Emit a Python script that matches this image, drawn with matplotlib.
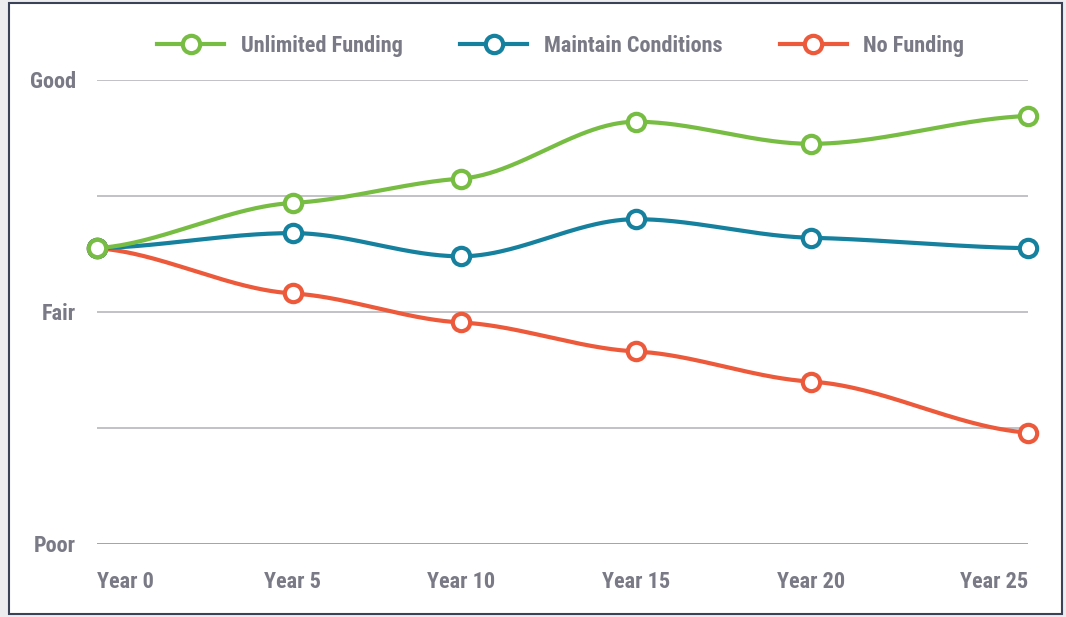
import numpy as np
import matplotlib
matplotlib.use('Agg')
import matplotlib.pyplot as plt
from matplotlib import font_manager
from matplotlib.patches import Rectangle

# data (scale: Poor=0, Fair=2, Good=4)
labels_x = ['Year 0', 'Year 5', 'Year 10', 'Year 15', 'Year 20', 'Year 25']
x_pos = [0, 5.26, 9.77, 14.47, 19.17, 25]
unlimited = [2.55, 2.94, 3.15, 3.64, 3.45, 3.69]
maintain = [2.55, 2.68, 2.48, 2.80, 2.64, 2.55]
no_funding = [2.55, 2.16, 1.91, 1.66, 1.40, 0.96]
series_names = ['Unlimited Funding', 'Maintain Conditions', 'No Funding']
colors = ['#78bd43', '#16819e', '#ec5a3b']
y_ticks = [0, 1, 2, 3, 4]
y_labels = {0: 'Poor', 2: 'Fair', 4: 'Good'}

names = {f.name for f in font_manager.fontManager.ttflist}
family = 'DejaVu Sans'
for cand in ['Roboto Condensed', 'Liberation Sans Narrow', 'Roboto', 'Open Sans']:
    if cand in names:
        family = cand
        break
plt.rcParams['font.family'] = family
TXT = '#7a7a86'
FS = 16
LW = 3.0


def smooth(x, y, k=0.3, n=80):
    # cubic hermite path with softened tangents (nearly flat at each point)
    x = np.asarray(x, float)
    y = np.asarray(y, float)
    h = np.diff(x)
    d = np.diff(y) / h
    m = np.zeros(len(x))
    for i in range(1, len(x) - 1):
        if d[i - 1] * d[i] > 0:
            m[i] = k * (d[i - 1] * h[i] + d[i] * h[i - 1]) / (h[i - 1] + h[i])
    m[0] = k * d[0]
    m[-1] = k * d[-1]
    xs, ys = [], []
    for i in range(len(x) - 1):
        t = np.linspace(0, 1, n)
        h00 = 2 * t**3 - 3 * t**2 + 1
        h10 = t**3 - 2 * t**2 + t
        h01 = -2 * t**3 + 3 * t**2
        h11 = t**3 - t**2
        xs.append(x[i] + t * h[i])
        ys.append(h00 * y[i] + h10 * h[i] * m[i] + h01 * y[i + 1] + h11 * h[i] * m[i + 1])
    return np.concatenate(xs), np.concatenate(ys)


W, H = 1066, 617
fig = plt.figure(figsize=(W / 100, H / 100), dpi=100, facecolor='#ededf0')
frame = Rectangle((9 / W, 3 / H), (1062 - 9) / W, (614 - 3) / H, transform=fig.transFigure,
                  facecolor='white', edgecolor='#3a4258', linewidth=1.5, zorder=-10)
fig.add_artist(frame)

ax = fig.add_axes([97 / W, (H - 544) / H, (1028 - 97) / W, (544 - 80) / H])
ax.set_zorder(5)
ax.set_facecolor('none')
ax.set_xlim(0, 25)
ax.set_ylim(0, 4)
for s in ax.spines.values():
    s.set_visible(False)
ax.set_xticks([])
ax.set_yticks([])

for yv in y_ticks:
    ax.axhline(yv, color='#8a8a94' if yv == 0 else '#b0b0b6', lw=1.1, zorder=1)
    if yv in y_labels:
        ax.annotate(y_labels[yv], (0, yv), xycoords=('axes fraction', 'data'), xytext=(-21, -2),
                    textcoords='offset pixels', ha='right', va='center', fontsize=FS,
                    fontweight='bold', color=TXT)

for i, (lab, xv) in enumerate(zip(labels_x, x_pos)):
    ha = 'left' if i == 0 else ('right' if i == len(labels_x) - 1 else 'center')
    ax.annotate(lab, (xv, 0), xycoords='data', xytext=(0, -38), textcoords='offset pixels',
                ha=ha, va='center', fontsize=FS, fontweight='bold', color=TXT)

# draw in reverse so the green series sits on top at the shared start point
series = list(zip([unlimited, maintain, no_funding], series_names, colors))
for z, (vals, name, c) in enumerate(reversed(series)):
    sx, sy = smooth(x_pos, vals)
    ax.plot(sx, sy, color=c, lw=LW, zorder=3 + 2 * z, clip_on=False, solid_capstyle='round')
    ax.plot(x_pos, vals, ls='none', marker='o', ms=12.5, mfc='white', mec=c, mew=LW,
            zorder=4 + 2 * z, clip_on=False, label=name)

handles = [plt.Line2D([], [], color=c, lw=LW, marker='o', ms=12.5, mfc='white', mec=c, mew=LW)
           for c in colors]
leg = fig.legend(handles, series_names, loc='center', bbox_to_anchor=(0.526, 1 - 46 / H), ncol=3,
                 frameon=False, handlelength=3.0, handletextpad=0.75, columnspacing=2.6,
                 prop={'size': FS, 'weight': 'bold'})
for t in leg.get_texts():
    t.set_color(TXT)

fig.savefig('out.png', dpi=100, facecolor=fig.get_facecolor())
